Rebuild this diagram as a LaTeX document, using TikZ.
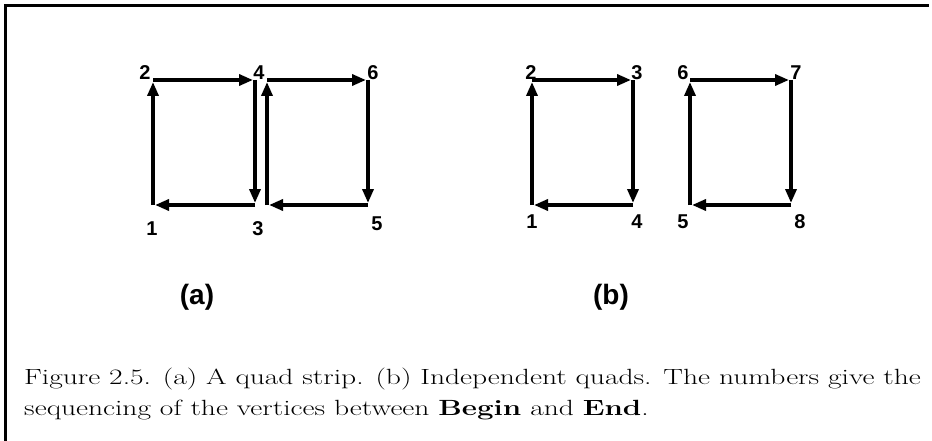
\documentclass[tikz,border=0pt]{standalone}
\usepackage{fontspec}
\setmainfont{Latin Modern Roman}
\newfontfamily\helv{Liberation Sans}
\usetikzlibrary{arrows.meta}
\tikzset{
  edge/.style={line width=3.4pt, -{Triangle[length=14pt,width=11pt]}, shorten >=2pt},
  vlabel/.style={font=\helv\bfseries\fontsize{20}{20}\selectfont, inner sep=0pt},
  sublabel/.style={font=\helv\bfseries\fontsize{28}{28}\selectfont, inner sep=0pt},
  captext/.style={font=\fontsize{22}{31}\selectfont, inner sep=0pt, anchor=base west},
  frame/.style={line width=3.4pt}
}
\begin{document}
\begin{tikzpicture}[x=1pt,y=-1pt]
\useasboundingbox (0,0) rectangle (932,441);
\draw[frame] (5.7,441) -- (5.7,5.7) -- (929,5.7);
% (a) quad strip
\coordinate (a1) at (153,205);
\coordinate (a2) at (153,80);
\coordinate (a4) at (255,80);
\coordinate (a3) at (255,205);
\coordinate (a3r) at (267,205);
\coordinate (a4r) at (267,80);
\coordinate (a6) at (368,80);
\coordinate (a5) at (368,205);
\draw[edge] (a1) -- (a2);
\draw[edge] (a2) -- (a4);
\draw[edge] (a4) -- (a3);
\draw[edge] (a3) -- (a1);
\draw[edge] (a3r) -- (a4r);
\draw[edge] (a4r) -- (a6);
\draw[edge] (a6) -- (a5);
\draw[edge] (a5) -- (a3r);
\node[vlabel] (la1) at (152,229) {1};
\node[vlabel] (la2) at (145,73) {2};
\node[vlabel] (la3) at (258,229) {3};
\node[vlabel] (la4) at (259,73) {4};
\node[vlabel] (la5) at (377,224) {5};
\node[vlabel] (la6) at (373,73) {6};
\node[sublabel] (capa) at (197,297) {(a)};
% (b) independent quads
\coordinate (b1) at (532,205);
\coordinate (b2) at (532,80);
\coordinate (b3) at (633,80);
\coordinate (b4) at (633,205);
\coordinate (b5) at (690,205);
\coordinate (b6) at (690,80);
\coordinate (b7) at (791,80);
\coordinate (b8) at (791,205);
\draw[edge] (b1) -- (b2);
\draw[edge] (b2) -- (b3);
\draw[edge] (b3) -- (b4);
\draw[edge] (b4) -- (b1);
\draw[edge] (b5) -- (b6);
\draw[edge] (b6) -- (b7);
\draw[edge] (b7) -- (b8);
\draw[edge] (b8) -- (b5);
\node[vlabel] (lb1) at (532,222) {1};
\node[vlabel] (lb2) at (531,73) {2};
\node[vlabel] (lb3) at (637,73) {3};
\node[vlabel] (lb4) at (637,222) {4};
\node[vlabel] (lb5) at (683,222) {5};
\node[vlabel] (lb6) at (683,73) {6};
\node[vlabel] (lb7) at (796,73) {7};
\node[vlabel] (lb8) at (800,222) {8};
\node[sublabel] (capb) at (611,297) {(b)};
% caption
\node[captext] (cap1) at (24,384) {\scalebox{1.34}[1]{Figure 2.5. (a) A quad strip. (b) Independent quads. The numbers give the}};
\node[captext] (cap2) at (24,415) {\scalebox{1.34}[1]{sequencing of the vertices between \textbf{Begin} and \textbf{End}.}};
\end{tikzpicture}
\end{document}
